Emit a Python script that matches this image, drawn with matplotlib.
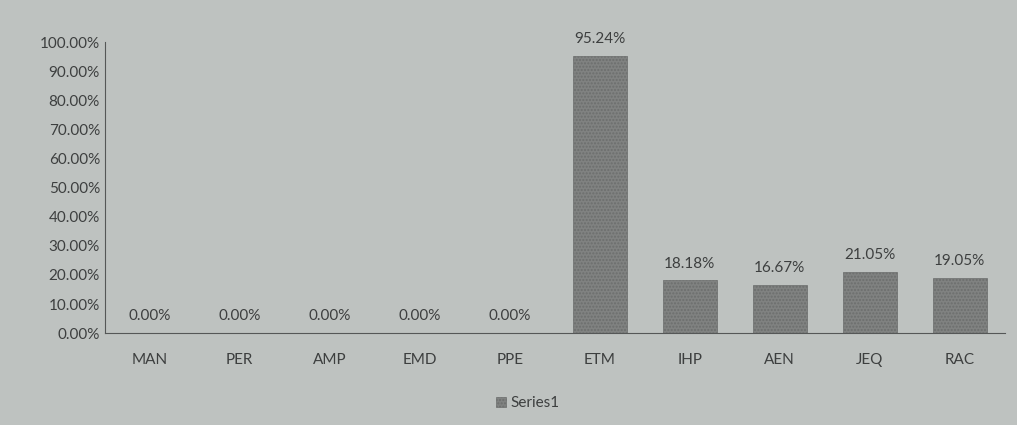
import matplotlib
matplotlib.use("Agg")
from matplotlib import pyplot as plt
from matplotlib.ticker import PercentFormatter

categories = ['MAN', 'PER', 'AMP', 'EMD', 'PPE', 'ETM', 'IHP', 'AEN', 'JEQ', 'RAC']
values = [0.0, 0.0, 0.0, 0.0, 0.0, 95.24, 18.18, 16.67, 21.05, 19.05]
yticks = [0, 10, 20, 30, 40, 50, 60, 70, 80, 90, 100]

bg = '#bec2c0'
txt = '#3d3f3f'
plt.rcParams['font.family'] = ['Lato', 'DejaVu Sans']

fig = plt.figure(figsize=(10.17, 4.25), dpi=100, facecolor=bg)
ax = fig.add_axes([0.103, 0.216, 0.885, 0.685])
ax.set_facecolor(bg)

x = range(len(categories))
bars = ax.bar(x, values, width=0.6, color='#808281', edgecolor='#6c6e6d',
              hatch='.....', linewidth=0.5, label='Series1')
for b, v in zip(bars, values):
    ax.annotate(f'{v:.2f}%', (b.get_x() + b.get_width() / 2, v),
                xytext=(0, 7), textcoords='offset points',
                ha='center', va='bottom', fontsize=11, color=txt)

ax.set_ylim(0, 100)
ax.set_xlim(-0.5, len(categories) - 0.5)
ax.set_yticks(yticks)
ax.yaxis.set_major_formatter(PercentFormatter(decimals=2))
ax.set_xticks(list(x))
ax.set_xticklabels(categories)
ax.tick_params(axis='both', length=0, labelsize=11, colors=txt)
ax.tick_params(axis='x', pad=14)
for s in ['top', 'right']:
    ax.spines[s].set_visible(False)
for s in ['left', 'bottom']:
    ax.spines[s].set_color('#555757')
    ax.spines[s].set_linewidth(0.8)

ax.legend(loc='upper center', bbox_to_anchor=(0.47, -0.17), frameon=False,
          fontsize=11, handlelength=0.7, handleheight=0.7, labelcolor=txt,
          handletextpad=0.3)

fig.savefig('out.png', dpi=100, facecolor=bg)
